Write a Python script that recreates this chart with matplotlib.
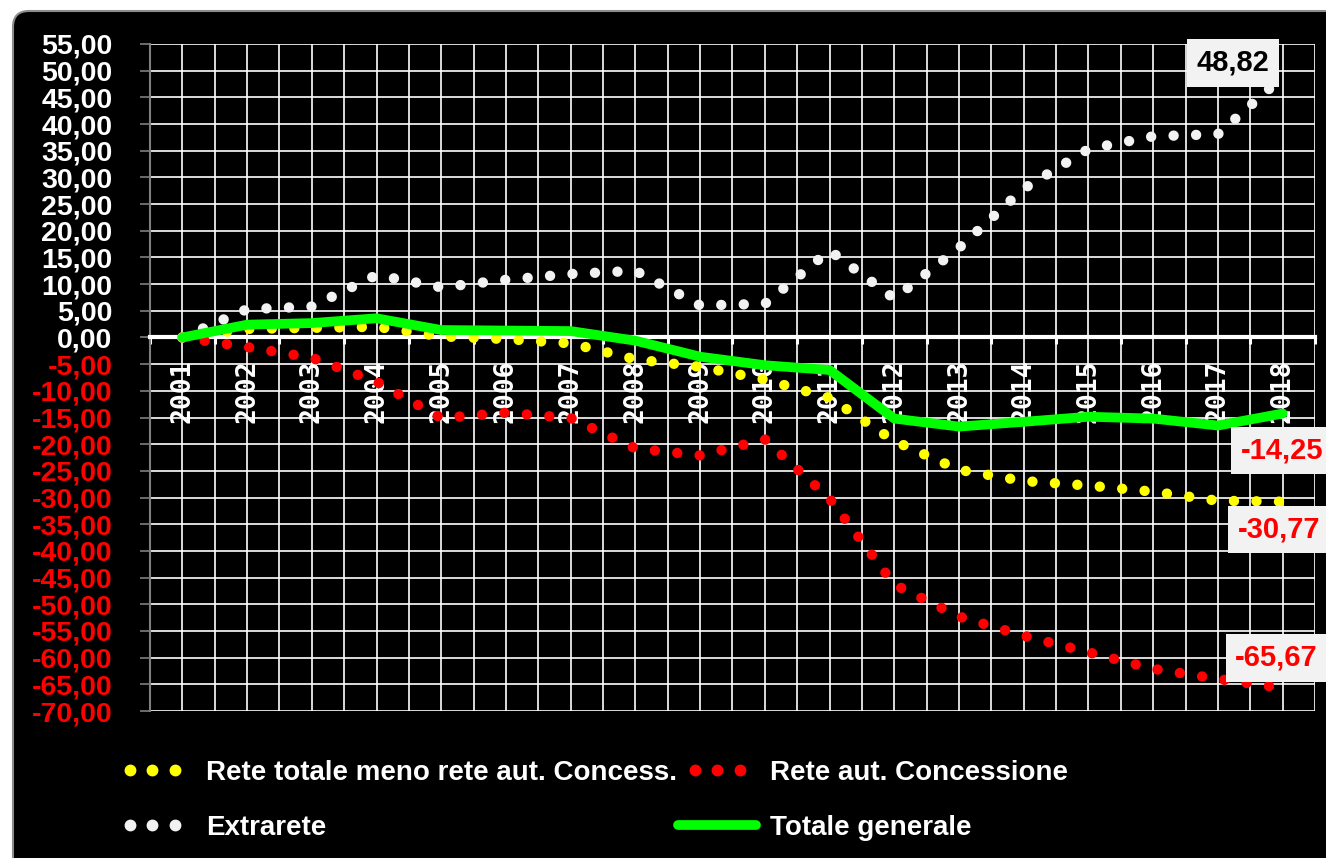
import numpy as np
import matplotlib.pyplot as plt
import matplotlib.transforms as mtransforms
from matplotlib.patches import FancyBboxPatch
from matplotlib.lines import Line2D
from matplotlib.legend_handler import HandlerLine2D
from matplotlib.ticker import FuncFormatter

plt.rcParams['font.family'] = ['Liberation Sans', 'DejaVu Sans']
plt.rcParams['font.weight'] = 'bold'

# dati (variazioni % rispetto al 2001)
anni = ['2001', '2002', '2003', '2004', '2005', '2006', '2007', '2008', '2009',
        '2010', '2011', '2012', '2013', '2014', '2015', '2016', '2017', '2018']
rete_meno = [0, 1.6, 1.8, 2.0, 0.2, -0.3, -1.1, -4.1, -5.5, -7.9, -11.3, -19.4,
             -24.8, -26.9, -27.75, -28.9, -30.6, -30.77]
rete_aut = [0, -1.8, -3.8, -8.3, -15.1, -14.1, -15.1, -20.8, -22.1, -19.1, -30.2,
            -46.3, -52.3, -55.9, -59.0, -62.1, -64.0, -65.67]
extrarete = [0, 5.3, 5.8, 11.7, 9.4, 10.8, 11.9, 12.5, 6.0, 6.3, 16.3, 7.3, 16.8,
             27.9, 35.3, 37.7, 38.1, 48.82]
totale = [0, 2.4, 2.7, 3.6, 1.4, 1.3, 1.2, -0.6, -3.6, -5.2, -6.1, -15.2, -16.7,
          -15.8, -14.85, -15.2, -16.5, -14.25]

nomi = ['Rete totale meno rete aut. Concess.', 'Extrarete',
        'Rete aut. Concessione', 'Totale generale']

GIALLO = '#ffff00'
ROSSO = '#ff0000'
BIANCO = '#f2f2f2'
VERDE = '#00ff00'

def virgola(v, pos=None):
    return f'{v:.2f}'.replace('.', ',')

W, H = 1326, 858
fig = plt.figure(figsize=(W / 100, H / 100), dpi=100)
fig.patch.set_facecolor('white')

# pannello nero con angoli arrotondati (sotto gli assi)
pannello = FancyBboxPatch((13, -20), 1340, 867, boxstyle='round,pad=0,rounding_size=16',
                          fc='black', ec='#8c8c8c', lw=1.5, zorder=-10,
                          transform=mtransforms.IdentityTransform())
fig.add_artist(pannello)

ax = fig.add_axes([150 / W, 1 - 711 / H, 1165 / W, 667 / H])
ax.set_facecolor('black')

x = np.arange(len(anni))
punti = (0, (0.001, 2.16))
ax.plot(x, rete_meno, color=GIALLO, lw=7.5, ls=punti, dash_capstyle='round', zorder=3)
ax.plot(x, rete_aut, color=ROSSO, lw=7.5, ls=punti, dash_capstyle='round', zorder=3)
ax.plot(x, extrarete, color=BIANCO, lw=7.5, ls=punti, dash_capstyle='round', zorder=3)
ax.plot(x, totale, color=VERDE, lw=7, solid_capstyle='round', solid_joinstyle='round', zorder=4)

ax.set_xlim(-0.5, 17.5)
ax.set_ylim(-70, 55)

# asse categorie sullo zero
ax.spines['top'].set_visible(False)
ax.spines['right'].set_visible(False)
ax.spines['left'].set_color('#7f7f7f')
ax.spines['left'].set_linewidth(1.5)
ax.spines['bottom'].set_position(('data', 0))
ax.spines['bottom'].set_color('white')
ax.spines['bottom'].set_linewidth(3)
ax.spines['bottom'].set_zorder(2.6)

ax.set_xticks(np.arange(-0.5, 18, 1))
ax.set_xticklabels([])
ax.set_xticks(x, minor=True)
ax.set_xticklabels(anni, minor=True, rotation=90, color='white',
                   fontsize=19, fontweight='bold', family='DejaVu Sans Mono')
ax.tick_params(axis='x', which='major', direction='out', length=5, width=2.2, color='white')
ax.tick_params(axis='x', which='minor', length=0, pad=16)
ax.grid(which='both', axis='x', color='white', lw=1.2)

ax.set_yticks(np.arange(-70, 56, 5))
ax.yaxis.set_major_formatter(FuncFormatter(virgola))
ax.tick_params(axis='y', direction='out', length=7, width=1.2, color='#7f7f7f',
               pad=20, labelsize=20.5)
ax.grid(axis='y', color='white', lw=1.2)
for v, lab in zip(ax.get_yticks(), ax.get_yticklabels()):
    lab.set_color('white' if v >= 0 else ROSSO)
    lab.set_fontweight('bold')

# etichette ultimi valori
box = dict(boxstyle='square,pad=0.33', fc='#f2f2f2', ec='none')
etichette = [(extrarete, 'black', (-50, 14)),
             (totale, ROSSO, (-1, -37)),
             (rete_meno, ROSSO, (-4, -28)),
             (rete_aut, ROSSO, (-6, 30))]
for serie, col, off in etichette:
    ax.annotate(virgola(serie[-1]), xy=(x[-1], serie[-1]), xytext=off,
                textcoords='offset pixels', ha='center', va='center',
                fontsize=21, fontweight='bold', color=col, bbox=box,
                zorder=10, annotation_clip=False)

# legenda
h_giallo = Line2D([], [], ls='none', marker='o', ms=7.5, color=GIALLO)
h_bianco = Line2D([], [], ls='none', marker='o', ms=7.5, color=BIANCO)
h_rosso = Line2D([], [], ls='none', marker='o', ms=7.5, color=ROSSO)
h_verde = Line2D([], [], color=VERDE, lw=7, solid_capstyle='round')
hp = HandlerLine2D(numpoints=3, marker_pad=0.59)
fig.legend(handles=[h_giallo, h_bianco, h_rosso, h_verde], labels=nomi, ncol=2,
           loc='upper left', bbox_to_anchor=(113.5 / W, 1 - 760 / H),
           frameon=False, prop={'size': 20, 'weight': 'bold'}, labelcolor='white',
           handlelength=2.8, handletextpad=0.52, columnspacing=0.05, labelspacing=1.05,
           borderpad=0, borderaxespad=0,
           handler_map={h_giallo: hp, h_bianco: hp, h_rosso: hp})

fig.savefig('out.png', dpi=100, facecolor=fig.get_facecolor())
